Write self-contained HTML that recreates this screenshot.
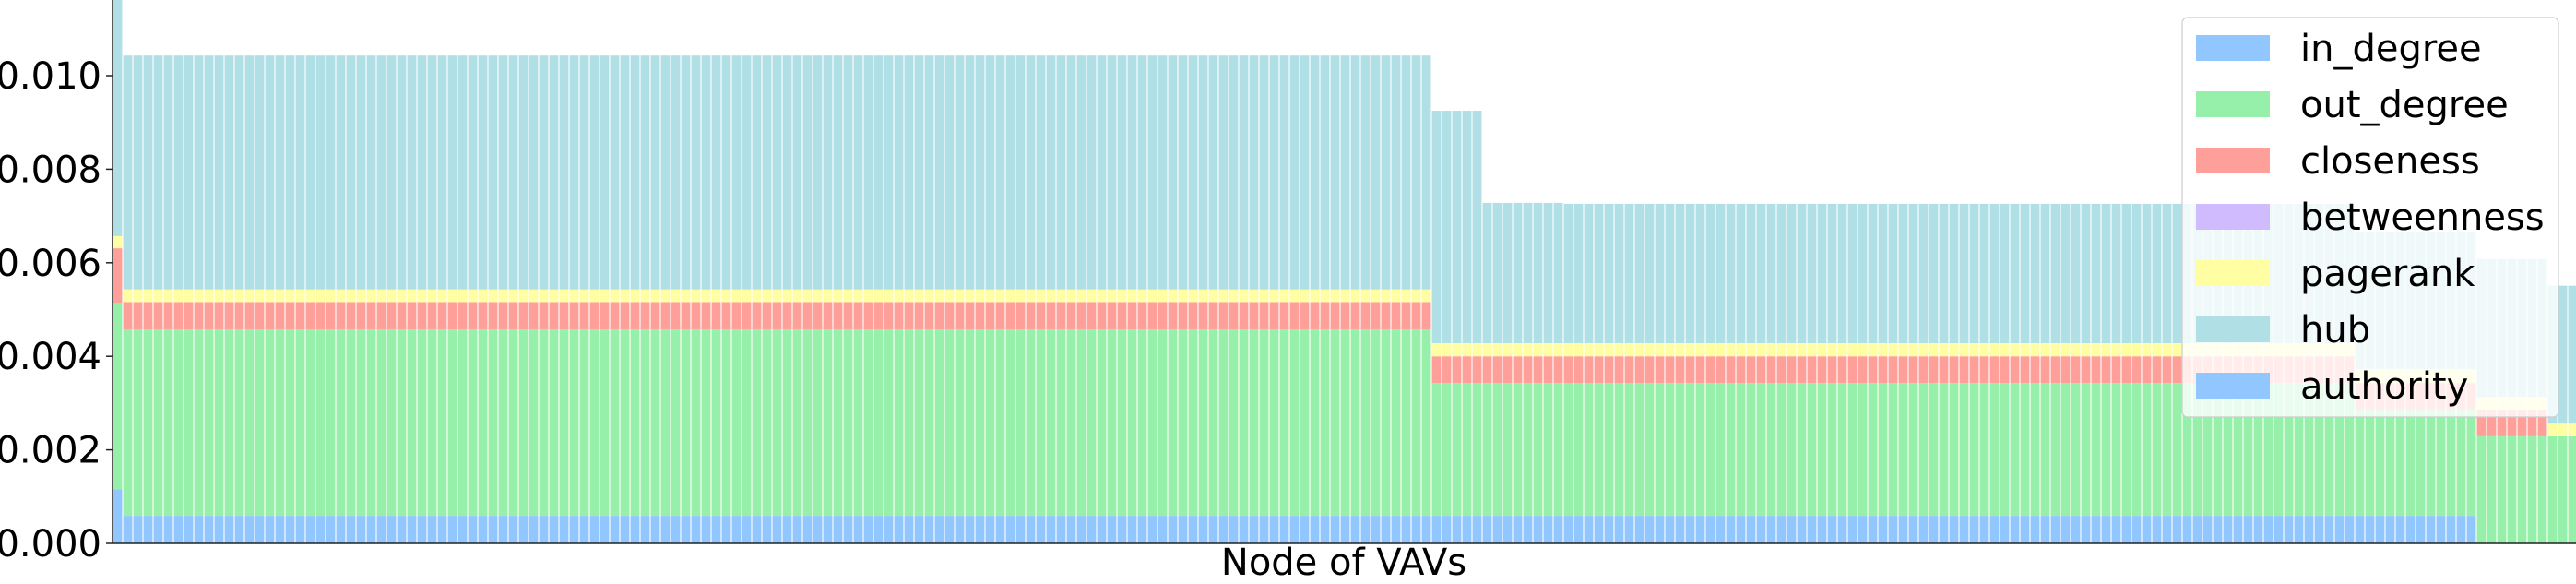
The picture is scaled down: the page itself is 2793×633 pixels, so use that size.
<!DOCTYPE html>
<html><head><meta charset="utf-8"><style>
html,body{margin:0;padding:0;background:#fff;}
svg{display:block;font-family:"DejaVu Sans","Liberation Sans",sans-serif;}
</style></head><body>
<svg id="chart" width="2793" height="633" viewBox="0 0 2793 633" xmlns="http://www.w3.org/2000/svg">
<defs><clipPath id="plotclip"><rect x="122" y="0" width="2671" height="589"/></clipPath></defs>
<g id="bars" clip-path="url(#plotclip)"></g>
<g id="yaxis"></g>
<line x1="122" y1="0" x2="122" y2="589" stroke="#222" stroke-width="1.5"/>
<line x1="122" y1="589" x2="2793" y2="589" stroke="#222" stroke-width="1.5"/>
<text x="1457" y="623" font-size="40" text-anchor="middle">Node of VAVs</text>
<g id="legend">
<rect x="2366" y="19" width="408" height="433" rx="6" fill="#fff" fill-opacity="0.8" stroke="#ccc" stroke-width="1.2"/>
</g>
</svg>
<script>
const seriesNames = ["in_degree","out_degree","closeness","betweenness","pagerank","hub","authority"];
const seriesColors = ["#92c6ff","#97f0aa","#ff9f9a","#d0bbff","#fffea3","#b0e0e6","#92c6ff"];
const groupCounts = [1,129,5,8,78,12,7,3];
const inDegree   = [0.00116,0.00059,0.00059,0.00059,0.00059,0.00059,0,0];
const outDegree  = [0.00398,0.00398,0.00284,0.00284,0.00284,0.00227,0.00229,0.00229];
const closeness  = [0.00117,0.00059,0.00057,0.00057,0.00057,0.00057,0.00057,0];
const betweenness= [0,0,0,0,0,0,0,0];
const pagerank   = [0.00026,0.00027,0.00028,0.00028,0.00028,0.00030,0.00027,0.00027];
const hub        = [0.00600,0.00500,0.00497,0.00300,0.00298,0.00292,0.00295,0.00295];
const authority  = [0,0,0,0,0,0,0,0];
const yTicks = ["0.000","0.002","0.004","0.006","0.008","0.010"];

const X0=122, BW=11, Y0=589, PXPER=50700;
const series=[inDegree,outDegree,closeness,betweenness,pagerank,hub,authority];
const NS="http://www.w3.org/2000/svg";
const yScale=v=>Y0-v*PXPER;
const xScale=i=>X0+BW*i;
const bars=document.getElementById('bars');
let idx=0;
groupCounts.forEach((cnt,g)=>{
  for(let k=0;k<cnt;k++){
    let cum=0;
    series.forEach((s,si)=>{
      const v=s[g];
      if(v>0){
        const r=document.createElementNS(NS,'rect');
        r.setAttribute('x',xScale(idx)+0.55);
        r.setAttribute('width',BW*0.9);
        r.setAttribute('y',yScale(cum+v));
        r.setAttribute('height',v*PXPER);
        r.setAttribute('fill',seriesColors[si]);
        
        
        bars.appendChild(r);
      }
      cum+=v;
    });
    idx++;
  }
});
const ya=document.getElementById('yaxis');
yTicks.forEach(t=>{
  const y=yScale(parseFloat(t));
  const l=document.createElementNS(NS,'line');
  l.setAttribute('x1',115);l.setAttribute('x2',122);l.setAttribute('y1',y);l.setAttribute('y2',y);
  l.setAttribute('stroke','#222');l.setAttribute('stroke-width','1.5');
  
  
  ya.appendChild(l);
  const tx=document.createElementNS(NS,'text');
  tx.setAttribute('x',110);tx.setAttribute('y',y+14);
  tx.setAttribute('font-size','40');tx.setAttribute('text-anchor','end');
  tx.textContent=t;
  
  
  ya.appendChild(tx);
});
const lg=document.getElementById('legend');
seriesNames.forEach((n,i)=>{
  const cy=52+i*61;
  const r=document.createElementNS(NS,'rect');
  r.setAttribute('x',2381);r.setAttribute('y',cy-14);r.setAttribute('width',80);r.setAttribute('height',28);
  r.setAttribute('fill',seriesColors[i]);
  
  
  lg.appendChild(r);
  const t=document.createElementNS(NS,'text');
  t.setAttribute('x',2494);t.setAttribute('y',cy+14);t.setAttribute('font-size','40');
  t.textContent=n;
  
  
  lg.appendChild(t);
});
</script>
</body></html>
